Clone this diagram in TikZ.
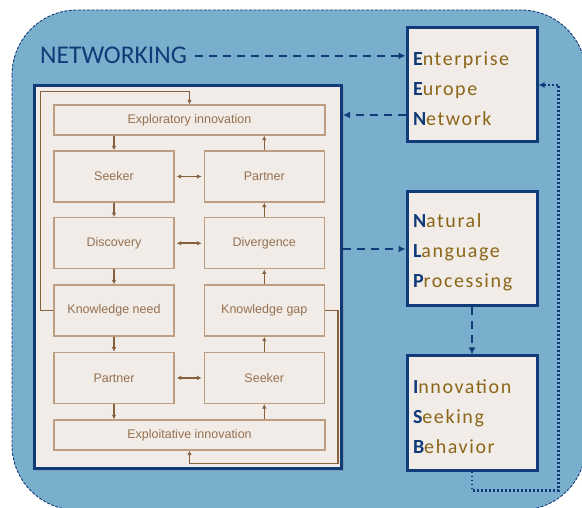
\documentclass[tikz,border=0pt]{standalone}
\usepackage{fontspec}
\setmainfont{Liberation Sans}
\newfontfamily\calfont{Carlito}
\newfontfamily\spacedfont[LetterSpace=8]{Carlito}
\usepackage{tikz}
\usetikzlibrary{positioning, arrows.meta, shadows}
\usepackage{xcolor}
\definecolor{skyback}{RGB}{121,175,205}
\definecolor{navy}{RGB}{16,58,120}
\definecolor{paper}{RGB}{241,236,231}
\definecolor{umber}{RGB}{135,96,62}
\definecolor{umbertext}{RGB}{150,112,80}
\definecolor{umberlight}{RGB}{190,158,128}
\definecolor{gold}{RGB}{140,102,24}
\tikzset{
  flow/.style={rectangle, draw=umberlight, line width=1.3pt,
               minimum width=120pt, minimum height=51pt,
               font=\fontsize{12.5}{14}\selectfont, text=umbertext},
  wide/.style={flow, minimum width=271pt, minimum height=30pt},
  panel/.style={rectangle, draw=navy, line width=3pt, fill=paper,
                minimum width=307pt, minimum height=383pt,
                drop shadow={opacity=0.35, shadow xshift=2pt, shadow yshift=-2pt}},
  acro/.style={rectangle, draw=navy, line width=3pt, fill=paper,
               minimum width=130pt, minimum height=114pt, inner xsep=5pt,
               text width=118pt, align=left, text=gold,
               font=\spacedfont\fontsize{20}{30}\selectfont},
  farr/.style={-{Latex[length=4.5pt,width=4.5pt]}, umber, line width=1.6pt},
  darr/.style={{Latex[length=4.5pt,width=4.5pt]}-{Latex[length=4.5pt,width=4.5pt]},
               umber, line width=1.6pt, shorten <=2pt, shorten >=2pt},
  link/.style={-{Latex[length=7pt,width=7pt]}, navy, line width=1.8pt,
               dash pattern=on 8pt off 6pt},
  dotlink/.style={-{Latex[length=6pt,width=6pt]}, navy, line width=2.2pt,
                  dash pattern=on 1.6pt off 2.4pt},
}
\newcommand{\initial}[2]{{\bfseries\color{navy}#1}#2}
% three words, first line kept a little taller so the block sits lower
\newcommand{\acrolines}[3]{\rule{0pt}{21pt}#1\\#2\\#3}

\begin{document}
\begin{tikzpicture}[x=1pt, y=-1pt]
  \useasboundingbox (0,0) rectangle (582,508);
  \fill[white] (0,0) rectangle (582,508);
  % rounded backdrop, cut at the page edge
  \begin{scope}
    \clip (0,0) rectangle (582,508);
    \draw[fill=skyback, draw=navy, line width=0.9pt, dash pattern=on 3pt off 1.5pt,
          rounded corners=65pt] (12,10) rectangle (586,510);
  \end{scope}

  \node[font=\calfont\fontsize{25.5}{30}\selectfont, text=navy,
        anchor=base west, inner sep=0pt] (networking) at (40,64) {NETWORKING};

  % process model panel
  \node[panel] (panel) at (188,277) {};

  \node[wide] (explor) at (189.5,120) {Exploratory innovation};
  \node[flow] (seekl) at (114,176.5) {Seeker};
  \node[flow, right=29pt of seekl] (partr) {Partner};
  \node[flow, below=14.5pt of seekl] (disc) {Discovery};
  \node[flow, right=29pt of disc] (diverg) {Divergence};
  \node[flow, below=15pt of disc] (kneed) {Knowledge need};
  \node[flow, right=29pt of kneed] (kgap) {Knowledge gap};
  \node[flow, below=15pt of kneed] (partl) {Partner};
  \node[flow, right=29pt of partl] (seekr) {Seeker};
  \node[wide] (exploit) at (189.5,435) {Exploitative innovation};

  % left column goes down, right column goes up
  \draw[farr] (explor.south -| seekl.north) -- (seekl.north);
  \draw[farr] (seekl) -- (disc);
  \draw[farr] (disc) -- (kneed);
  \draw[farr] (kneed) -- (partl);
  \draw[farr] (partl.south) -- (exploit.north -| partl.south);
  \draw[farr] (exploit.north -| seekr.south) -- (seekr.south);
  \draw[farr] (seekr) -- (kgap);
  \draw[farr] (kgap) -- (diverg);
  \draw[farr] (diverg) -- (partr);
  \draw[farr] (partr.north) -- (explor.south -| partr.north);

  \draw[darr] (seekl) -- (partr);
  \draw[darr] (disc) -- (diverg);
  \draw[darr] (partl) -- (seekr);

  % feedback loops
  \draw[farr] (kneed.west) -- ++(-13,0) |- ([yshift=13pt]explor.north) -- (explor.north);
  \draw[farr] (kgap.east) -- ++(13,0) |- ([yshift=-13pt]exploit.south) -- (exploit.south);

  % acronym boxes
  \node[acro] (een) at (472,85)
    {\acrolines{\initial{E}{nterprise}}{\initial{E}{urope}}{\initial{N}{etwork}}};
  \node[acro] (nlp) at (472,249)
    {\acrolines{\initial{N}{atural}}{\initial{L}{anguage}}{\initial{P}{rocessing}}};
  \node[acro] (isb) at (472,413)
    {\acrolines{\initial{I}{nnovation}}{\initial{S}{eeking}}{\initial{B}{ehavior}}};

  \coordinate (eenlow) at ([yshift=-30pt]een.west);
  \draw[link] ([xshift=8pt]networking.east) -- (networking.east -| een.west);
  \draw[link] (eenlow) -- (eenlow -| panel.east);
  \draw[link] (panel.east |- nlp.west) -- (nlp.west);
  \draw[link] (nlp.south) -- (isb.north);
  \draw[dotlink] (isb.south) -- ++(0,19) -| ([xshift=20pt]een.east) -- (een.east);
\end{tikzpicture}
\end{document}
